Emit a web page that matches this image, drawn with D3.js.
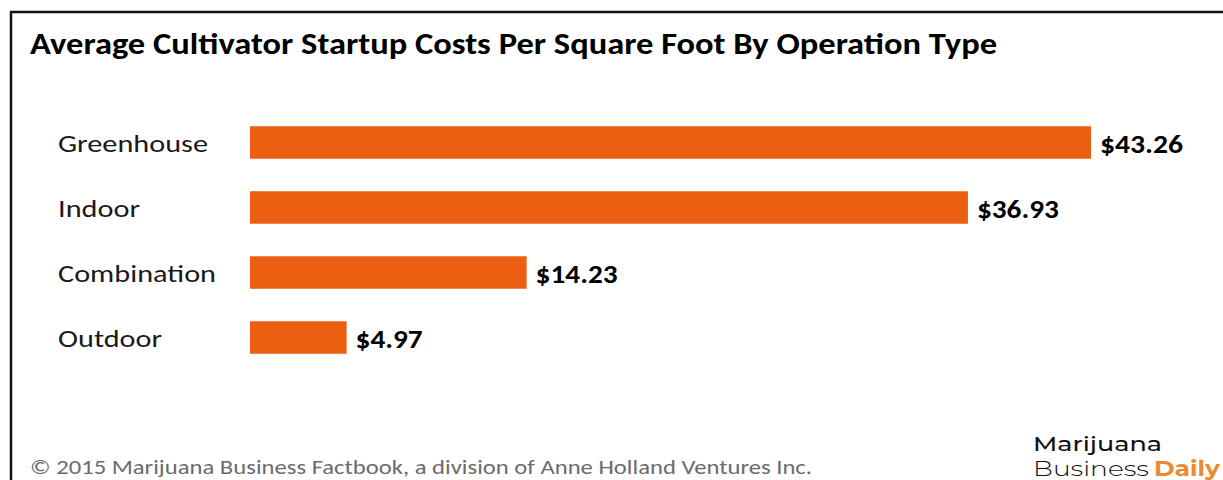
<!DOCTYPE html>
<html>
<head>
  <meta charset="utf-8">
  <script src="https://d3js.org/d3.v7.min.js"></script>
  <style>
    body { margin: 0; background: #fff; }
    svg { display: block; }
  </style>
</head>
<body>
  <svg id="chart" width="1223" height="480"></svg>
  <script>
    // data
    let categories = ["Greenhouse", "Indoor", "Combination", "Outdoor"];
    let costs = [43.26, 36.93, 14.23, 4.97];
    let valueLabels = ["$43.26", "$36.93", "$14.23", "$4.97"];

    let svg = d3.select("#chart");
    let fontStack = "Calibri, Carlito, Lato, 'Open Sans', sans-serif";

    // frame (right edge runs off the picture)
    svg.append("path")
      .attr("d", "M11,480 V12 H1230")
      .attr("fill", "none")
      .attr("stroke", "#111")
      .attr("stroke-width", 2.5);

    svg.append("text")
      .attr("x", 30).attr("y", 54)
      .attr("textLength", 967).attr("lengthAdjust", "spacingAndGlyphs")
      .style("font-family", fontStack)
      .style("font-weight", 900)
      .style("font-size", "30px")
      .style("fill", "#000")
      .text("Average Cultivator Startup Costs Per Square Foot By Operation Type");

    let x = d3.scaleLinear().domain([0, 43.26]).range([250, 1091]);
    let y = d3.scaleBand().domain(categories).range([110, 370]).paddingInner(0.5).paddingOuter(0.25);

    svg.selectAll("rect.bar")
      .data(categories)
      .join("rect")
      .attr("class", "bar")
      .attr("x", x(0))
      .attr("y", d => y(d))
      .attr("width", (d, i) => x(costs[i]) - x(0))
      .attr("height", y.bandwidth())
      .attr("fill", "#EC5F13");

    let labelWidths = [150, 82, 158, 104];
    svg.selectAll("text.cat")
      .data(categories)
      .join("text")
      .attr("class", "cat")
      .attr("x", 58)
      .attr("y", d => y(d) + y.bandwidth() / 2 + 9)
      .attr("textLength", (d, i) => labelWidths[i])
      .attr("lengthAdjust", "spacingAndGlyphs")
      .style("font-family", fontStack)
      .style("font-size", "25px")
      .style("fill", "#1a1a1a")
      .text(d => d);

    let valueWidths = [83, 82, 82, 67];
    svg.selectAll("text.val")
      .data(categories)
      .join("text")
      .attr("class", "val")
      .attr("x", (d, i) => x(costs[i]) + 9)
      .attr("y", d => y(d) + y.bandwidth() / 2 + 10)
      .attr("textLength", (d, i) => valueWidths[i])
      .attr("lengthAdjust", "spacingAndGlyphs")
      .style("font-family", fontStack)
      .style("font-weight", 900)
      .style("font-size", "27px")
      .style("fill", "#000")
      .text((d, i) => valueLabels[i]);

    svg.append("text")
      .attr("x", 30).attr("y", 474)
      .attr("textLength", 782).attr("lengthAdjust", "spacingAndGlyphs")
      .style("font-family", fontStack)
      .style("font-size", "21px")
      .style("fill", "#6b6b6b")
      .text("© 2015 Marijuana Business Factbook, a division of Anne Holland Ventures Inc.");

    // logo
    let logoFont = "Montserrat, Inter, 'Open Sans', sans-serif";
    svg.append("text")
      .attr("x", 1033).attr("y", 451)
      .attr("textLength", 129).attr("lengthAdjust", "spacingAndGlyphs")
      .style("font-family", logoFont)
      .style("font-weight", 500)
      .style("font-size", "21px")
      .style("fill", "#111")
      .text("Marijuana");

    let logo2 = svg.append("text")
      .attr("x", 1033).attr("y", 476)
      .style("font-family", logoFont)
      .style("font-size", "21px");
    logo2.append("tspan")
      .attr("textLength", 116).attr("lengthAdjust", "spacingAndGlyphs")
      .style("font-weight", 300)
      .style("fill", "#111")
      .text("Business");
    logo2.append("tspan")
      .attr("x", 1154)
      .attr("textLength", 66).attr("lengthAdjust", "spacingAndGlyphs")
      .style("font-weight", "bold")
      .style("fill", "#EB8A2E")
      .text("Daily");
  </script>
</body>
</html>
